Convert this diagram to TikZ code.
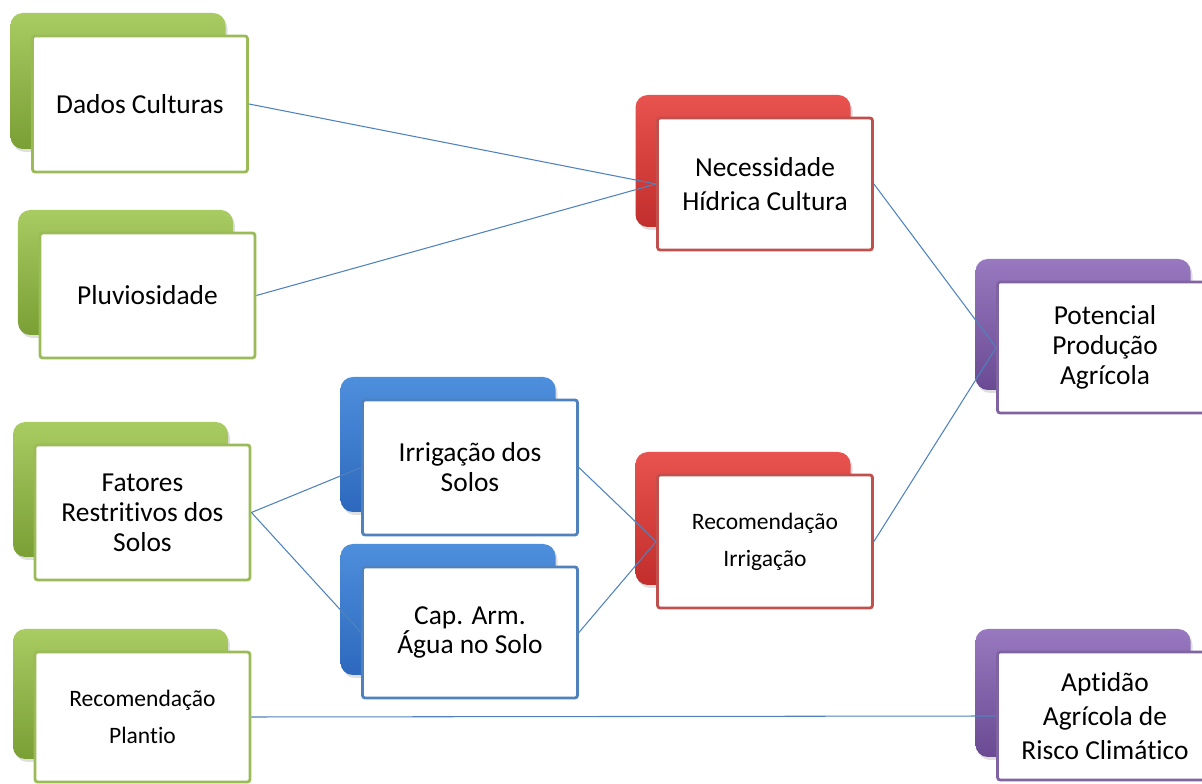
\documentclass[tikz,border=0pt]{standalone}
\usepackage{fontspec}
\setmainfont{Carlito}[RawFeature={-liga;-clig;-calt;-dlig}]
\usepackage{tikz}
\usetikzlibrary{calc,shadows}

\definecolor{verde}{HTML}{9BBB59}
\definecolor{verdeA}{HTML}{A8CB62}
\definecolor{verdeB}{HTML}{7A9F35}
\definecolor{vermelho}{HTML}{C0504D}
\definecolor{vermelhoA}{HTML}{E8524F}
\definecolor{vermelhoB}{HTML}{C22E2B}
\definecolor{azul}{HTML}{4F81BD}
\definecolor{azulA}{HTML}{4E8FDD}
\definecolor{azulB}{HTML}{2D68BC}
\definecolor{roxo}{HTML}{8064A2}
\definecolor{roxoA}{HTML}{9878BF}
\definecolor{roxoB}{HTML}{6A4B93}

\tikzset{
  fundo/.style={rounded corners=7pt, minimum width=4.3cm, top color=#1A, bottom color=#1B,
    drop shadow={opacity=0.25, shadow xshift=0.04cm, shadow yshift=-0.06cm}},
  cartao/.style={draw=#1, fill=white, line width=1.6pt, rounded corners=1.5pt,
    minimum width=4.3cm, align=center, inner sep=2pt},
  liga/.style={draw=azul, line width=0.6pt},
  grande/.style={font=\fontsize{15.6}{17}\selectfont},
  pequeno/.style={font=\fontsize{13.4}{21}\selectfont}
}

% #1 name, #2 centre, #3 colour, #4 height, #5 text style, #6 text
\newcommand{\cartao}[6]{%
  \node[fundo=#3, minimum height=#4] (#1t) at ($(#2)+(-0.44,0.46)$) {};
  \node[cartao=#3, minimum height=#4, #5] (#1) at (#2) {#6};
}

\begin{document}
\begin{tikzpicture}
  \useasboundingbox (0,0) rectangle (24.04,15.68);
  \clip (0,0) rectangle (24.04,15.68);

  %% left column
  \cartao{dados}{2.80,13.60}{verde}{2.72cm}{grande}{Dados Culturas}
  \cartao{pluv}{2.95,9.77}{verde}{2.5cm}{grande}{Pluviosidade}
  \cartao{fatores}{2.85,5.43}{verde}{2.7cm}{grande}{Fatores\\Restritivos dos\\Solos}
  \cartao{plantio}{2.85,1.34}{verde}{2.6cm}{pequeno}{Recomendação\\Plantio}

  %% middle
  \cartao{irrig}{9.40,6.33}{azul}{2.7cm}{grande}{Irrigação dos\\Solos}
  \cartao{cap}{9.40,3.03}{azul}{2.62cm}{grande}{Cap. Arm.\\Água no Solo}

  \cartao{necess}{15.30,12.00}{vermelho}{2.64cm}{font=\fontsize{15.6}{19}\selectfont}{Necessidade\\Hídrica Cultura}
  \cartao{recirr}{15.30,4.85}{vermelho}{2.66cm}{pequeno}{Recomendação\\Irrigação}

  %% right column
  \cartao{potencial}{22.10,8.73}{roxo}{2.62cm}{grande}{Potencial\\Produção\\Agrícola}
  \cartao{aptidao}{22.10,1.36}{roxo}{2.56cm}{font=\fontsize{15.6}{19.5}\selectfont}{Aptidão\\Agrícola de\\Risco Climático}

  %% connectors
  \draw[liga] (dados.east) -- (necess.west);
  \draw[liga] (pluv.east) -- (necess.west);
  \draw[liga] (necess.east) -- (potencial.west);
  \draw[liga] (recirr.east) -- (potencial.west);
  \draw[liga] (fatores.east) -- (irrig.west);
  \draw[liga] (fatores.east) -- (cap.west);
  \draw[liga] (irrig.east) -- (recirr.west);
  \draw[liga] (cap.east) -- (recirr.west);
  \draw[liga] (plantio.east) -- (aptidao.west);
\end{tikzpicture}
\end{document}
